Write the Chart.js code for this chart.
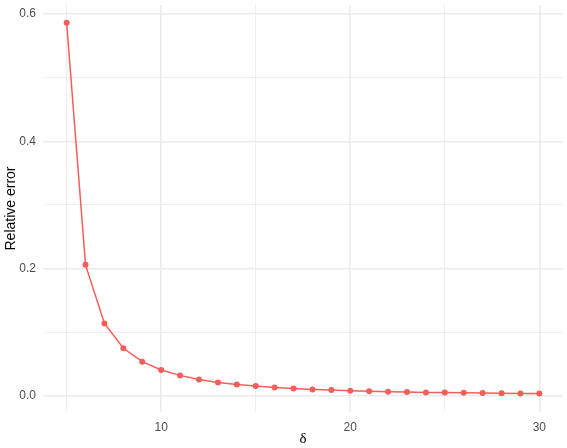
<!DOCTYPE html>
<html>
<head>
<meta charset="utf-8">
<script src="https://cdn.jsdelivr.net/npm/chart.js@4/dist/chart.umd.min.js"></script>
<style>
  html, body { margin: 0; padding: 0; background: #fff; }
  #wrap { width: 567px; height: 448px; }
</style>
</head>
<body>
<div id="wrap"><canvas id="chart" width="567" height="448"></canvas></div>
<script>
// delta values and the relative error
const deltas = [5, 6, 7, 8, 9, 10, 11, 12, 13, 14, 15, 16, 17, 18, 19, 20, 21, 22, 23, 24, 25, 26, 27, 28, 29, 30];
const relErrors = [0.586, 0.206, 0.114, 0.075, 0.054, 0.041, 0.0325, 0.026, 0.0214, 0.0183, 0.0157, 0.0135, 0.012, 0.0105,
  0.0094, 0.0084, 0.0074, 0.0068, 0.0063, 0.0058, 0.0055, 0.0051, 0.0048, 0.0045, 0.0042, 0.004];
const xTicks = [5, 10, 15, 20, 25, 30];
const xLabelled = [10, 20, 30];
const yTicks = [0, 0.1, 0.2, 0.3, 0.4, 0.5, 0.6];
const yLabelled = [0, 0.2, 0.4, 0.6];

const red = "#F35E5A";
const gridCol = "#EBEBEB";
const tickFont = { family: "'Liberation Sans', Arial, sans-serif", size: 12 };

const isMajor = (list, v) => list.some(t => Math.abs(t - v) < 1e-9);

new Chart(document.getElementById("chart").getContext("2d"), {
  type: "line",
  data: {
    datasets: [{
      data: deltas.map((d, i) => ({ x: d, y: relErrors[i] })),
      borderColor: red,
      backgroundColor: red,
      borderWidth: 1.5,
      pointRadius: 3,
      pointBorderWidth: 0,
      pointBackgroundColor: red,
      tension: 0
    }]
  },
  options: {
    responsive: false,
    animation: false,
    layout: { padding: { top: 5, right: 3, left: 0, bottom: 0 } },
    plugins: { legend: { display: false }, tooltip: { enabled: false } },
    scales: {
      x: {
        type: "linear",
        min: 3.75, max: 31.25,
        afterBuildTicks: ax => { ax.ticks = xTicks.map(v => ({ value: v })); },
        afterFit: ax => { ax.height = 36; ax.paddingLeft = 0; ax.paddingRight = 0; },
        border: { display: false },
        grid: {
          color: gridCol,
          drawTicks: false,
          lineWidth: c => (c.tick && isMajor(xLabelled, c.tick.value)) ? 1.6 : 0.8
        },
        ticks: {
          color: "#4D4D4D", font: tickFont, padding: 8, maxRotation: 0,
          callback: v => isMajor(xLabelled, v) ? String(v) : ""
        },
        title: {
          display: true, text: "δ", color: "#000",
          font: { family: "'Liberation Serif', 'Times New Roman', serif", size: 15 },
          padding: { top: 1, bottom: 0 }
        }
      },
      y: {
        type: "linear",
        min: -0.025, max: 0.614,
        afterBuildTicks: ax => { ax.ticks = yTicks.map(v => ({ value: v })); },
        afterFit: ax => { ax.width = 43; ax.paddingTop = 0; ax.paddingBottom = 0; },
        border: { display: false },
        grid: {
          color: gridCol,
          drawTicks: false,
          lineWidth: c => (c.tick && isMajor(yLabelled, c.tick.value)) ? 1.6 : 0.8
        },
        ticks: {
          color: "#4D4D4D", font: tickFont, padding: 7,
          callback: v => isMajor(yLabelled, v) ? v.toFixed(1) : ""
        },
        title: {
          display: true, text: "Relative error", color: "#000",
          font: { family: "'Liberation Sans', Arial, sans-serif", size: 14 },
          padding: { top: 3, bottom: 0 }
        }
      }
    }
  }
});
</script>
</body>
</html>
